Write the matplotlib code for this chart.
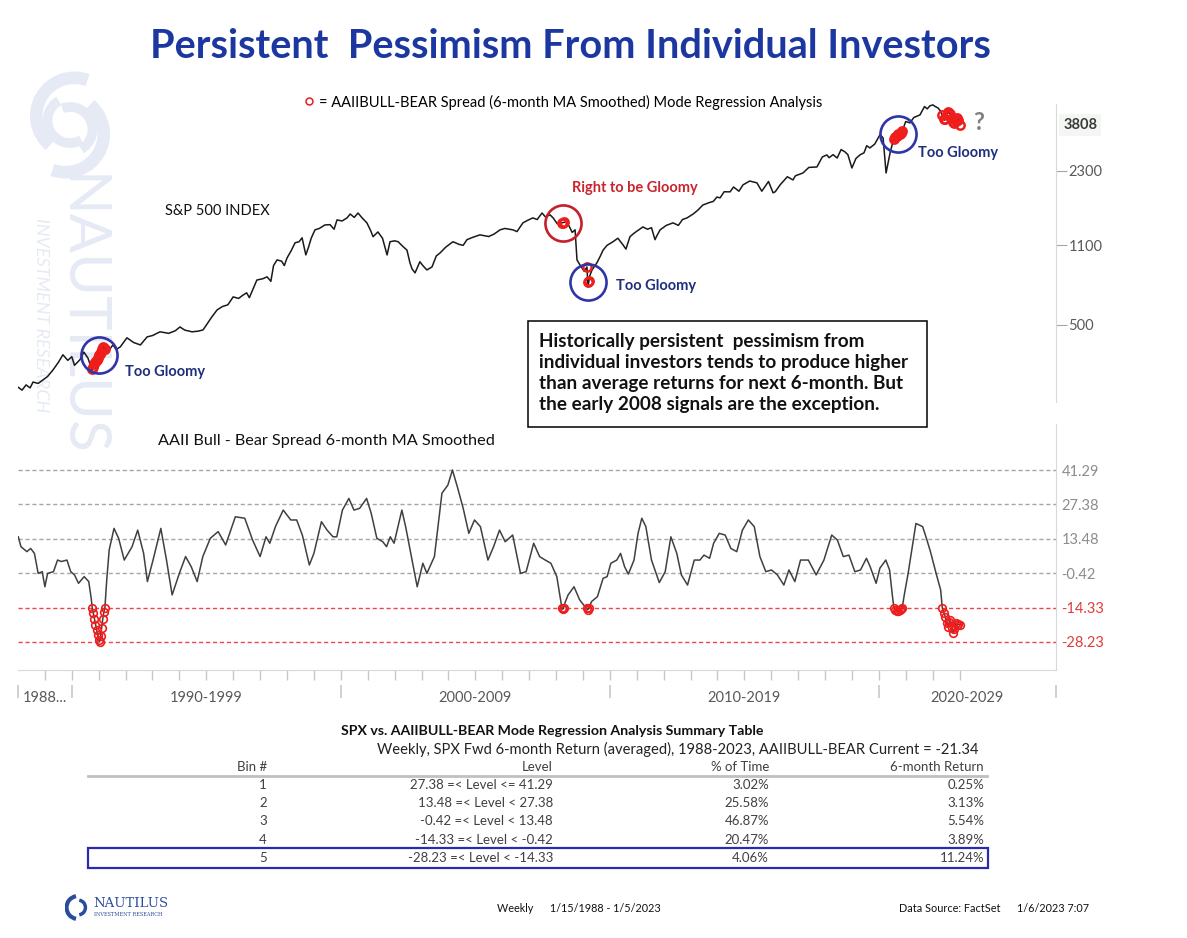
import numpy as np
import matplotlib
matplotlib.use('Agg')
from matplotlib import pyplot as plt
from matplotlib.patches import Rectangle, Arc

plt.rcParams['font.family'] = ['Lato', 'DejaVu Sans']

# S&P 500 weekly closes (log scale); sorted below
spx_years = np.array([
    1988.0, 1988.15, 1988.3, 1988.45, 1988.56, 1988.75, 1988.93, 1989.1, 1989.3, 1989.5,
    1989.67, 1989.85, 1990.0, 1990.1, 1990.3, 1990.45, 1990.6, 1990.75,
    1991.16, 1991.35, 1991.53, 1991.65, 1991.8, 1992.05, 1992.3, 1992.55, 1992.8, 1993.0,
    1993.28, 1993.6, 1993.85, 1994.02, 1994.2, 1994.47, 1994.7, 1994.88,
    1995.2, 1995.4, 1995.6, 1995.8, 1996.0, 1996.2, 1996.35, 1996.5, 1996.6, 1996.88, 1997.1,
    1997.26, 1997.4, 1997.5, 1997.63, 1997.8, 1997.9, 1998.0, 1998.15, 1998.3, 1998.45, 1998.56,
    1998.7, 1998.8, 1998.9, 1999.04, 1999.2, 1999.41, 1999.6, 1999.75, 1999.86, 2000.05, 2000.23,
    2000.35, 2000.5, 2000.64, 2000.8, 2000.97, 2001.1, 2001.2, 2001.3, 2001.38, 2001.55,
    2001.72, 2001.83, 2002.0, 2002.13, 2002.3, 2002.46, 2002.57, 2002.65, 2002.76, 2002.94,
    2003.05, 2003.2, 2003.39, 2003.55, 2003.69, 2003.9, 2004.17, 2004.4, 2004.55, 2004.69,
    2004.9, 2005.17, 2005.5, 2005.7, 2005.92, 2006.1, 2006.4, 2006.55, 2006.77, 2006.95,
    2007.14, 2007.3, 2007.48, 2007.6, 2007.78, 2007.9, 2008.05, 2008.22, 2008.4, 2008.52,
    2008.6, 2008.71, 2008.78, 2008.89, 2009.05, 2009.15, 2009.19, 2009.25, 2009.34, 2009.52,
    2009.65, 2009.75, 2009.9, 2010.12, 2010.3, 2010.49, 2010.6, 2010.75, 2010.9, 2011.23,
    2011.4, 2011.55, 2011.68, 2011.75, 2011.87, 2012.1, 2012.35, 2012.55, 2012.7, 2012.87,
    2013.1, 2013.28, 2013.46, 2013.7, 2013.85, 2013.98, 2014.1, 2014.25, 2014.47, 2014.6,
    2014.8, 2014.95, 2015.2, 2015.47, 2015.65, 2015.9, 2016.07, 2016.15, 2016.33, 2016.6,
    2016.81, 2016.9, 2017.18, 2017.4, 2017.7, 2017.9, 2018.07, 2018.15, 2018.3, 2018.45,
    2018.6, 2018.74, 2018.85, 2019.0, 2019.15, 2019.3, 2019.45, 2019.55, 2019.67, 2019.85,
    2020.05, 2020.16, 2020.27, 2020.42, 2020.55, 2020.68, 2020.85, 2021.0, 2021.16, 2021.3,
    2021.53, 2021.7, 2021.8, 2021.9, 2022.01, 2022.1, 2022.2, 2022.3, 2022.39, 2022.45,
    2022.57, 2022.65, 2022.76, 2022.83, 2022.9, 2022.95, 2023.0])
spx_vals = np.array([
    270, 262, 276, 268, 284, 280, 290, 300, 320, 345,
    372, 352, 365, 335, 354, 382, 360, 320,
    402, 385, 410, 392, 402, 440, 420, 410, 444, 450,
    467, 460, 472, 490, 475, 467, 470, 476,
    540, 580, 600, 610, 660, 650, 670, 687, 655, 780, 790,
    805, 770, 900, 952, 940, 900, 970, 1040, 1128, 1140, 1185,
    1000, 1080, 1180, 1282, 1300, 1346, 1350, 1290, 1415, 1400, 1443,
    1500, 1450, 1515, 1440, 1374, 1280, 1198, 1230, 1256, 1180,
    1000, 1140, 1150, 1140, 1090, 1049, 925, 870, 837, 935,
    900, 862, 888, 990, 1020, 1080, 1140, 1110, 1100, 1163,
    1190, 1220, 1200, 1230, 1282, 1300, 1282, 1260, 1374, 1410,
    1443, 1420, 1515, 1460, 1487, 1440, 1360, 1374, 1390, 1308,
    1250, 1282, 952, 906, 850, 888, 728, 810, 862, 925,
    990, 1049, 1100, 1140, 1180, 1105, 1060, 1198, 1240, 1320,
    1290, 1310, 1163, 1210, 1282, 1340, 1374, 1340, 1420, 1443,
    1500, 1561, 1640, 1680, 1700, 1774, 1760, 1870, 1868, 1960,
    1880, 2001, 2080, 2042, 1880, 2070, 1850, 1870, 2001, 2170,
    2102, 2190, 2252, 2380, 2390, 2640, 2694, 2620, 2700, 2612,
    2840, 2777, 2700, 2366, 2600, 2694, 2750, 2950, 2886, 3000,
    3300, 3186, 2252, 2750, 3150, 3283, 3350, 3750, 3700, 3900,
    4003, 4350, 4250, 4380, 4420, 4350, 4290, 4150, 3920, 3800,
    4110, 4050, 3735, 3680, 3890, 3850, 3625])
spx_last = 3808
spx_ticks = [500, 1100, 2300]

# AAII bull-bear spread, 6-month MA
spread_years = np.array([
    1988.01, 1988.11, 1988.33, 1988.47, 1988.61, 1988.75, 1988.9, 1989.0, 1989.1,
    1989.32, 1989.47, 1989.61, 1989.82, 1989.96, 1990.1, 1990.25, 1990.46, 1990.63,
    1990.72, 1990.76, 1990.8, 1990.84, 1990.88, 1990.92, 1990.96, 1991.0, 1991.03,
    1991.07, 1991.11, 1991.15, 1991.19, 1991.23, 1991.3, 1991.39, 1991.57, 1991.74,
    1991.95, 1992.24, 1992.45, 1992.67, 1992.81, 1993.02, 1993.31, 1993.52, 1993.73,
    1994.02, 1994.23, 1994.44, 1994.66, 1994.87, 1995.15, 1995.44, 1995.72, 1996.08,
    1996.43, 1996.72, 1997.0, 1997.22, 1997.36, 1997.57, 1997.86, 1998.14, 1998.36,
    1998.57, 1998.83, 1999.0, 1999.28, 1999.49, 1999.71, 1999.85, 2000.06, 2000.3,
    2000.49, 2000.7, 2000.96, 2001.13, 2001.34, 2001.56, 2001.7, 2001.84, 2001.98,
    2002.27, 2002.41, 2002.67, 2002.84, 2003.05, 2003.2, 2003.48, 2003.76, 2003.98,
    2004.15, 2004.33, 2004.55, 2004.76, 2004.97, 2005.19, 2005.47, 2005.68, 2005.9,
    2006.11, 2006.39, 2006.68, 2006.89, 2007.17, 2007.39, 2007.6, 2007.81, 2008.03,
    2008.18, 2008.22, 2008.25, 2008.28, 2008.33, 2008.45, 2008.67, 2008.88, 2009.03,
    2009.14, 2009.18, 2009.22, 2009.32, 2009.54, 2009.75, 2009.9, 2010.04, 2010.26,
    2010.4, 2010.55, 2010.69, 2010.9, 2011.05, 2011.19, 2011.34, 2011.55, 2011.84,
    2012.06, 2012.27, 2012.49, 2012.66, 2012.89, 2013.14, 2013.35, 2013.5, 2013.71,
    2013.86, 2014.07, 2014.29, 2014.5, 2014.72, 2014.93, 2015.15, 2015.37, 2015.58,
    2015.8, 2016.01, 2016.23, 2016.47, 2016.66, 2016.88, 2017.09, 2017.38, 2017.67,
    2017.96, 2018.25, 2018.46, 2018.68, 2018.89, 2019.11, 2019.32, 2019.54, 2019.68,
    2019.9, 2020.04, 2020.26, 2020.4, 2020.5, 2020.56, 2020.61, 2020.66, 2020.72,
    2020.78, 2020.83, 2020.87, 2020.95, 2021.09, 2021.38, 2021.63, 2021.77, 2021.92,
    2022.13, 2022.3, 2022.36, 2022.42, 2022.47, 2022.52, 2022.57, 2022.62, 2022.66,
    2022.71, 2022.76, 2022.81, 2022.86, 2022.91, 2022.96, 2023.0])
spread_vals = np.array([
    14.3, 10.3, 8.3, 9.6, 7.6, -0.5, 0.2, -5.9, -0.5,
    0.2, 4.9, 4.3, 4.9, 0.2, -1.1, -4.5, -1.8, -3.8,
    -10.5, -14.4, -16.6, -18.9, -21.2, -23.4, -25.6, -27.4, -28.2,
    -26.0, -22.5, -19.0, -16.2, -14.4, -3.0, 9.0, 17.7, 13.7,
    4.9, 10.3, 17.0, 7.6, -3.8, 4.9, 17.7, 4.9, -9.2,
    0.2, 6.3, 2.2, -3.8, 6.3, 13.7, 16.4, 11.0, 22.4,
    21.8, 13.0, 6.3, 14.3, 11.7, 18.4, 25.1, 21.1, 21.1,
    15.0, 2.9, 7.6, 20.4, 17.0, 14.3, 14.3, 25.1, 29.8,
    25.1, 25.8, 29.8, 23.8, 13.7, 12.3, 10.3, 14.3, 11.7,
    25.1, 18.4, 3.6, -5.9, 3.6, -0.5, 6.3, 31.9, 35.2,
    41.3, 34.6, 25.8, 15.7, 21.1, 18.4, 4.9, 10.3, 17.0,
    12.3, 15.0, -0.5, 0.2, 11.7, 6.3, 4.9, 3.6, -1.8,
    -12.0, -14.5, -15.0, -14.5, -12.5, -9.2, -5.9, -11.2, -13.3,
    -14.5, -15.2, -14.6, -11.9, -9.9, -2.5, -1.8, 3.6, 4.9,
    7.6, 2.2, -0.8, 4.9, 15.7, 21.8, 18.4, 4.9, -4.2,
    0.2, 14.3, 7.6, -1.1, -5.2, 4.9, 4.9, 6.9, 5.6,
    11.7, 15.7, 15.0, 9.6, 8.3, 17.0, 21.1, 18.4, 6.3,
    0.2, 0.9, -1.1, -5.2, 0.9, -3.8, 4.9, 4.9, -1.1,
    4.9, 15.0, 13.0, 6.3, 6.9, 0.2, 0.9, 5.6, 2.2,
    -4.5, 1.6, 4.9, 0.9, -9.0, -14.4, -15.2, -15.6, -15.8,
    -15.4, -14.8, -14.4, -9.0, -0.5, 19.7, 18.4, 13.7, 8.3,
    -0.5, -7.2, -14.4, -16.5, -18.0, -20.5, -22.0, -20.0, -19.3,
    -22.5, -24.7, -23.0, -20.7, -21.5, -20.9, -21.3])

levels = [41.29, 27.38, 13.48, -0.42, -14.33, -28.23]
decade_labels = ['1988...', '1990-1999', '2000-2009', '2010-2019', '2020-2029']
decade_starts = [1988, 1990, 2000, 2010, 2020]

# summary table
bin_ids = [1, 2, 3, 4, 5]
pct_time = [3.02, 25.58, 46.87, 20.47, 4.06]
fwd_return = [0.25, 3.13, 5.54, 3.89, 11.24]
spread_current = -21.34

# annotated signal clusters: (date, circle colour, label, label colour, label pos px)
notes = [
    (1991.0, '#2f35a8', 'Too Gloomy', '#1f2f7d', (125, 372)),
    (2008.25, '#c4202b', 'Right to be Gloomy', '#c9252d', (572, 188)),
    (2009.18, '#2f35a8', 'Too Gloomy', '#1f2f7d', (616, 286)),
    (2020.72, '#2f35a8', 'Too Gloomy', '#1f2f7d', (918, 153)),
]

W, H = 1187, 938


def fx(x):
    return x / W


def fy(y):
    return 1 - y / H


fig = plt.figure(figsize=(W / 100, H / 100), dpi=100)

# faint watermark on the left
wm_col = '#e6eaf5'
wm = fig.add_axes([fx(25), fy(195), fx(115) - fx(25), fy(55) - fy(195)], zorder=-5)
wm.set_xlim(-1, 1)
wm.set_ylim(-1.55, 1.55)
wm.set_aspect('equal')
wm.axis('off')
for (cx, cy), r, t1, t2, lw in [((0.1, 0.2), 0.85, 70, 230, 9), ((-0.1, -0.2), 0.85, 250, 410, 9),
                                ((0.0, 0.1), 0.5, 120, 300, 7), ((0.0, -0.1), 0.5, 300, 470, 7)]:
    wm.add_patch(Arc((cx, cy), 2 * r, 2 * r, theta1=t1, theta2=t2, color=wm_col, lw=lw))
fig.text(fx(80), fy(315), 'NAUTILUS', rotation=-90, ha='center', va='center',
         fontsize=42, color=wm_col, zorder=-5)
fig.text(fx(41), fy(315), 'INVESTMENT RESEARCH', rotation=-90, ha='center', va='center',
         fontsize=13, color=wm_col, fontstyle='italic', zorder=-5)

fig.text(fx(570), fy(47), 'Persistent  Pessimism From Individual Investors', ha='center', va='center',
         fontsize=28.5, fontweight='bold', color='#1c38a0')

xmax = 1988 + (1056 - 18) / 26.9
sig = spread_vals <= levels[4]
order = np.argsort(spx_years)
spx_years, spx_vals = spx_years[order], spx_vals[order]

# ---- S&P 500 panel
ax1 = fig.add_axes([fx(18), fy(402), fx(1056) - fx(18), fy(104) - fy(402)])
ax1.set_yscale('log')
ax1.plot(spx_years, spx_vals, color='#1a1a1a', lw=1.1)
sig_spx = np.interp(spread_years[sig], spx_years, spx_vals)
ax1.plot(spread_years[sig], sig_spx, 'o', ms=6, mfc='none', mec='#f01d1d', mew=1.8)
for date, ccol, label, tcol, (tx, ty) in notes:
    ax1.plot([date], [np.interp(date, spx_years, spx_vals)], 'o', ms=26, mfc='none', mec=ccol, mew=1.9)
    fig.text(fx(tx), fy(ty), label, ha='left', va='center', fontsize=10.5, fontweight='bold', color=tcol)
ax1.set_xlim(1988, xmax)
ax1.set_ylim(233, 4460)
for s in ['top', 'left', 'bottom']:
    ax1.spines[s].set_visible(False)
ax1.spines['right'].set_color('#d9d9d9')
ax1.set_xticks([])
ax1.yaxis.tick_right()
ax1.yaxis.set_minor_locator(matplotlib.ticker.NullLocator())
ax1.set_yticks(spx_ticks)
ax1.set_yticklabels([str(t) for t in spx_ticks])
ax1.tick_params(axis='y', length=8, color='#a6a6a6', labelcolor='#595959', labelsize=10.5, pad=1)
ax1.text(1.007, spx_vals[-1], str(spx_last), transform=ax1.get_yaxis_transform(), ha='left', va='center',
         fontsize=10.5, fontweight='bold', color='#3a3a3a',
         bbox=dict(facecolor='#f3f6f3', edgecolor='none', pad=3))
ax1.patch.set_alpha(0)
fig.text(fx(973), fy(123), '?', ha='left', va='center', fontsize=17, fontweight='bold', color='#808080')

fig.legend(handles=[matplotlib.lines.Line2D([], [], ls='none', marker='o', ms=5, mfc='none',
                                            mec='#e02020', mew=1.1)],
           labels=['= AAIIBULL-BEAR Spread (6-month MA Smoothed) Mode Regression Analysis'],
           loc='center', bbox_to_anchor=(fx(563), fy(102)), frameon=False, fontsize=10.5,
           handlelength=0.8, handletextpad=0.3)
fig.text(fx(165), fy(211), 'S&P 500 INDEX', ha='left', va='center', fontsize=10.5, color='#111111')

# comment box
fig.add_artist(Rectangle((fx(528), fy(427)), fx(927) - fx(528), fy(321) - fy(427),
                         transform=fig.transFigure, facecolor='white', edgecolor='black', lw=1.1))
fig.text(fx(539), fy(373),
         'Historically persistent  pessimism from\n'
         'individual investors tends to produce higher\n'
         'than average returns for next 6-month. But\n'
         'the early 2008 signals are the exception.',
         ha='left', va='center', fontsize=13.6, fontweight='bold', linespacing=1.3, color='#111111')

# ---- spread panel
ax2 = fig.add_axes([fx(18), fy(670), fx(1056) - fx(18), fy(424) - fy(670)])
ax2.patch.set_alpha(0)
ax2.plot(spread_years, spread_vals, color='#404040', lw=1.1, zorder=3)
ax2.plot(spread_years[sig], spread_vals[sig], 'o', ms=5.5, mfc='none', mec='#f01d1d', mew=1.2, zorder=4)
for i, lv in enumerate(levels):
    ax2.axhline(lv, color='#a6a6a6' if i < 4 else '#e8474c', lw=1.0, ls=(0, (3, 2)), zorder=1)
ax2.set_xlim(1988, xmax)
ax2.set_ylim(-39.55, 59.9)
for s in ['top', 'left']:
    ax2.spines[s].set_visible(False)
for s in ['right', 'bottom']:
    ax2.spines[s].set_color('#d9d9d9')
ax2.yaxis.tick_right()
ax2.set_yticks(levels)
ax2.set_yticklabels([f'{lv:.2f}' for lv in levels])
ax2.tick_params(axis='y', length=0, labelsize=10.5, pad=4)
for i, lab in enumerate(ax2.get_yticklabels()):
    lab.set_color('#8c8c8c' if i < 4 else '#e03c3c')
ax2.set_xticks(np.arange(1989, 2024))
ax2.set_xticklabels([])
ax2.tick_params(axis='x', length=7, color='#c8c8c8', width=1)
bounds = decade_starts + [xmax]
ax2.vlines(bounds, -0.06, -0.115, transform=ax2.get_xaxis_transform(), color='#c8c8c8', lw=1.2, clip_on=False)
for lab, a, b in zip(decade_labels, bounds[:-1], bounds[1:]):
    ax2.text((a + b) / 2, -0.113, lab, transform=ax2.get_xaxis_transform(), ha='center', va='center',
             fontsize=10.5, color='#595959')
fig.text(fx(158), fy(441), 'AAII Bull - Bear Spread 6-month MA Smoothed', ha='left', va='center',
         fontsize=11.7, color='#111111')

# ---- summary table
fig.text(fx(552), fy(731), 'SPX vs. AAIIBULL-BEAR Mode Regression Analysis Summary Table',
         ha='center', va='center', fontsize=10.2, fontweight='bold', color='#111111')
fig.text(fx(377), fy(749), 'Weekly, SPX Fwd 6-month Return (averaged), 1988-2023, AAIIBULL-BEAR Current = '
         f'{spread_current:.2f}', ha='left', va='center', fontsize=10.6, color='#222222')
col_x = [267, 553, 769, 984]
for x, h in zip(col_x, ['Bin #', 'Level', '% of Time', '6-month Return']):
    fig.text(fx(x), fy(767), h, ha='right', va='center', fontsize=9.5, color='#404040')
fig.add_artist(matplotlib.lines.Line2D([fx(88), fx(987)], [fy(776), fy(776)], transform=fig.transFigure,
                                       color='#c0c0c0', lw=2))
for i, b in enumerate(bin_ids):
    y = 785 + i * 18.2
    lo, hi = levels[i + 1], levels[i]
    lvl = f'{lo:.2f} =< Level <= {hi:.2f}' if i == 0 else f'{lo:.2f} =< Level < {hi:.2f}'
    cells = [str(b), lvl, f'{pct_time[i]:.2f}%', f'{fwd_return[i]:.2f}%']
    for x, c in zip(col_x, cells):
        fig.text(fx(x), fy(y), c, ha='right', va='center', fontsize=9.5, color='#404040')
y5 = 785 + 4 * 18.2
fig.add_artist(Rectangle((fx(88), fy(y5 + 10)), fx(988) - fx(88), fy(y5 - 10) - fy(y5 + 10),
                         transform=fig.transFigure, facecolor='none', edgecolor='#2a2ab0', lw=1.6))

# ---- footer
lg = fig.add_axes([fx(64), fy(921), fx(28), fy(894) - fy(921)])
lg.set_xlim(-1, 1)
lg.set_ylim(-1, 1)
lg.set_aspect('equal')
lg.axis('off')
lg.add_patch(Arc((0, 0), 1.7, 1.7, theta1=100, theta2=260, color='#2b4c9b', lw=3))
lg.add_patch(Arc((0, 0), 1.1, 1.1, theta1=280, theta2=80, color='#2b4c9b', lw=2.5))
fig.text(fx(93), fy(903), 'NAUTILUS', ha='left', va='center', fontsize=9.5, color='#2b4c9b',
         family='DejaVu Serif')
fig.text(fx(94), fy(914), 'INVESTMENT RESEARCH', ha='left', va='center', fontsize=3.6, color='#2b4c9b',
         family='DejaVu Serif')
fig.text(fx(497), fy(908), 'Weekly      1/15/1988 - 1/5/2023', ha='left', va='center', fontsize=7.8,
         color='#111111')
fig.text(fx(899), fy(908), 'Data Source: FactSet      1/6/2023 7:07', ha='left', va='center', fontsize=7.8,
         color='#111111')

fig.savefig('out.png', dpi=100, facecolor='white')
